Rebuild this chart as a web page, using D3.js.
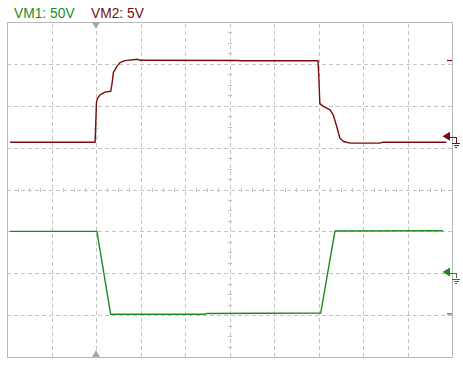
<!DOCTYPE html>
<html>
<head>
<meta charset="utf-8">
<style>
  body { margin: 0; background: #fff; }
  svg { display: block; }
  .grid line { stroke: #c4c4c4; stroke-dasharray: 4,3; shape-rendering: crispEdges; }
  .grid path { display: none; }
  .minor line { stroke: #c4c4c4; shape-rendering: crispEdges; }
  .minor path { display: none; }
  .minor text, .grid text { display: none; }
</style>
</head>
<body>
<div id="scope"></div>
<script src="https://cdnjs.cloudflare.com/ajax/libs/d3/7.8.5/d3.min.js"></script>
<script>
// channel labels
const channelNames = ['VM1: 50V', 'VM2: 5V'];
const channelColors = ['#1e8a1e', '#7a0c0c'];
const voltsPerDiv = [50, 5];
const offsetDiv = [-1.97, 1.13];   // where 0 V of each channel sits, in divisions
const markerDiv = [-1.97, 1.27];   // reference arrows on the right edge
const levelDiv = [-2.97, 3.08];    // little level dashes on the right edge

// time in divisions, values in volts
const vm1Time = [0.07, 2.02, 2.33, 4.45, 4.49, 7.05, 7.37, 9.80];
const vm1Volts = [48.5, 48.5, -50.5, -50.5, -49.5, -49.0, 49.0, 49.2];

const vm2Time = [0.07, 1.98, 1.99, 2.01, 2.03, 2.09, 2.20, 2.33, 2.36, 2.39, 2.47, 2.54, 2.65, 2.94, 2.99,
                 5.17, 5.24, 6.99, 7.01, 7.03, 7.10, 7.26, 7.33, 7.41, 7.48, 7.56, 7.71, 8.38, 8.45, 9.87];
const vm2Volts = [0.0, 0.0, 1.5, 4.7, 5.2, 5.65, 5.98, 6.08, 6.95, 8.3, 9.05, 9.5, 9.74, 9.9, 9.78,
                  9.76, 9.72, 9.72, 7.45, 4.6, 4.3, 3.87, 3.27, 1.87, 0.5, 0.08, -0.11, -0.11, 0.0, 0.0];

const triggerDiv = 2.0;

const W = 463, H = 365;
const svg = d3.select('#scope').append('svg')
  .attr('width', W).attr('height', H);

const x = d3.scaleLinear().domain([0, 10]).range([7, 452]);
const y = d3.scaleLinear().domain([-4, 4]).range([357, 22]);

// dashed grid
svg.append('g').attr('class', 'grid')
  .attr('transform', `translate(0,${y(-4)})`)
  .call(d3.axisBottom(x).tickValues(d3.range(1, 10)).tickSize(-(y(-4) - y(4))).tickFormat(''));
svg.append('g').attr('class', 'grid')
  .attr('transform', `translate(${x(0)},0)`)
  .call(d3.axisLeft(y).tickValues(d3.range(-3, 4)).tickSize(-(x(10) - x(0))).tickFormat(''));

// quarter-division ticks on the center lines
const xMinor = d3.range(0.25, 10, 0.25).filter(d => d % 1 !== 0);
const yMinor = d3.range(-3.75, 4, 0.25).filter(d => d % 1 !== 0);
svg.append('g').attr('class', 'minor')
  .attr('transform', `translate(0,${y(0) - 2})`)
  .call(d3.axisBottom(x).tickValues(xMinor).tickSize(4).tickFormat(''));
svg.append('g').attr('class', 'minor')
  .attr('transform', `translate(${x(5) + 2},0)`)
  .call(d3.axisLeft(y).tickValues(yMinor).tickSize(4).tickFormat(''));

// frame
svg.append('rect')
  .attr('x', x(0)).attr('y', y(4))
  .attr('width', x(10) - x(0)).attr('height', y(-4) - y(4))
  .attr('fill', 'none').attr('stroke', '#b8b8b8')
  .attr('shape-rendering', 'crispEdges');

// trigger markers
const tx = x(triggerDiv);
svg.append('path')
  .attr('d', `M${tx - 4},${y(4)} L${tx + 4},${y(4)} L${tx},${y(4) + 7} Z`)
  .attr('fill', '#a8a8a8');
svg.append('path')
  .attr('d', `M${tx - 4},${y(-4)} L${tx + 4},${y(-4)} L${tx},${y(-4) - 7} Z`)
  .attr('fill', '#a8a8a8');
// faint trigger level mark
svg.append('path')
  .attr('d', `M${tx - 2.5},${y(1.22)} L${tx + 2.5},${y(1.22)} L${tx},${y(1.22) - 5} Z`)
  .attr('fill', '#d0d0d0');
svg.append('path')
  .attr('d', `M${tx - 3},${y(1.46)} H${tx + 3} M${tx},${y(1.46) - 3} V${y(1.46) + 3}`)
  .attr('stroke', '#d4d4d4');

// traces
const traces = [
  { t: vm1Time, v: vm1Volts, ch: 0 },
  { t: vm2Time, v: vm2Volts, ch: 1 }
];
const line = ch => d3.line()
  .x(d => x(d[0]))
  .y(d => y(offsetDiv[ch] + d[1] / voltsPerDiv[ch]));

traces.forEach(tr => {
  svg.append('path')
    .datum(tr.t.map((t, i) => [t, tr.v[i]]))
    .attr('d', line(tr.ch))
    .attr('fill', 'none')
    .attr('stroke', channelColors[tr.ch])
    .attr('stroke-width', 1.4)
    .attr('stroke-linejoin', 'round');
});

// reference arrows with ground symbol on the right
markerDiv.forEach((m, ch) => {
  const my = y(m);
  const g = svg.append('g').attr('stroke', channelColors[ch]).attr('fill', channelColors[ch]);
  g.append('path').attr('d', `M442.5,${my} L450,${my - 4.5} L450,${my + 4.5} Z`).attr('stroke', 'none');
  g.append('path')
    .attr('d', `M450,${my + 1.5} H456 V${my + 6.5} M452,${my + 7.5} H460 M453.5,${my + 9.5} H458.5 M455,${my + 11.5} H457`)
    .attr('fill', 'none').attr('stroke-width', 1).attr('shape-rendering', 'crispEdges');
});

// level dashes on the right edge
levelDiv.forEach((l, ch) => {
  svg.append('line')
    .attr('x1', x(10) - 5).attr('x2', x(10))
    .attr('y1', y(l)).attr('y2', y(l))
    .attr('stroke', channelColors[ch]).attr('stroke-width', 1.2);
});

// header labels
const labelX = [14, 91];
channelNames.forEach((n, i) => {
  svg.append('text')
    .attr('x', labelX[i]).attr('y', 18)
    .attr('font-family', '"Liberation Sans", Arial, sans-serif')
    .attr('font-size', 13.8)
    .attr('fill', channelColors[i])
    .text(n);
});
</script>
</body>
</html>
